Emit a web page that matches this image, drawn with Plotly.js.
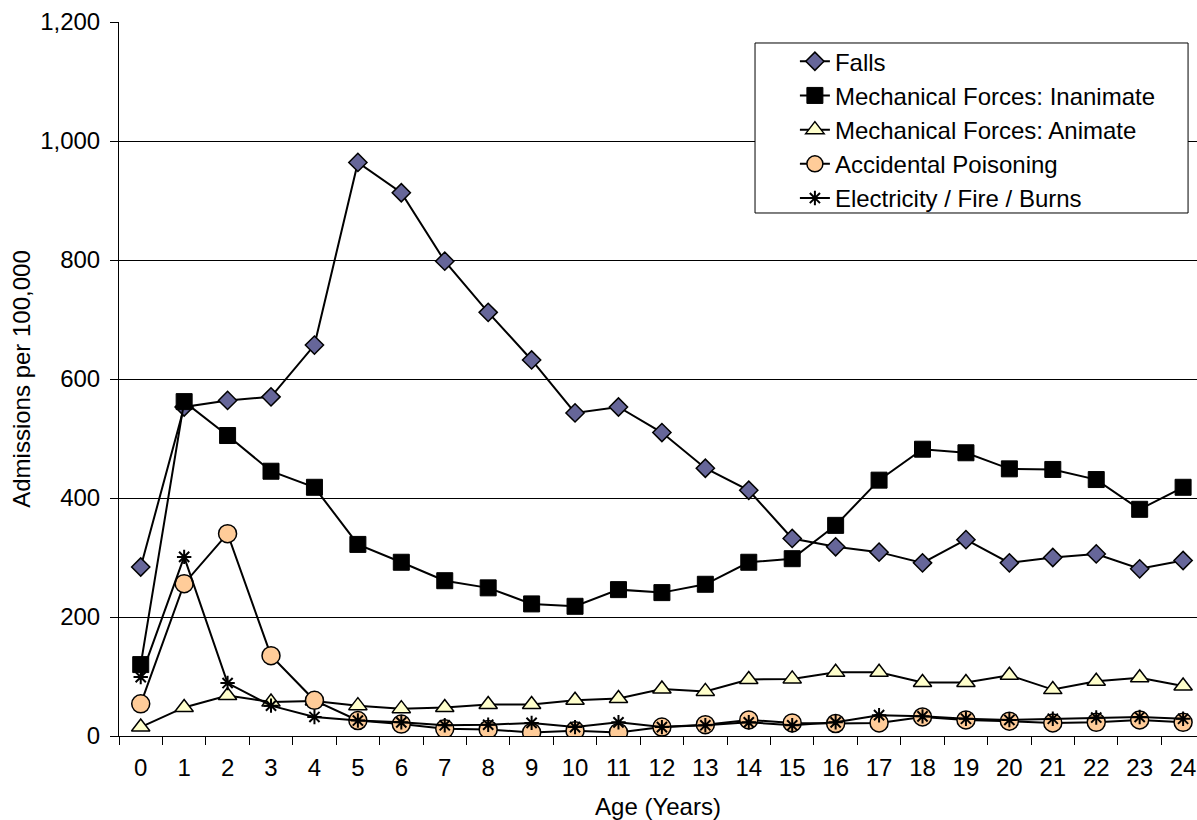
<!DOCTYPE html>
<html>
<head>
<meta charset="utf-8">
<script src="https://cdn.plot.ly/plotly-3.0.1.min.js"></script>
<style>html,body{margin:0;padding:0;background:#fff;}#chart{width:1197px;height:820px;}</style>
</head>
<body>
<div id="chart"></div>
<script>
var ages = ["0","1","2","3","4","5","6","7","8","9","10","11","12","13","14","15","16","17","18","19","20","21","22","23","24"];
var falls = [284, 553, 564, 570, 657, 964, 913, 798, 712, 632, 543, 553, 510, 450, 413, 332, 318, 309, 291, 330, 291, 300, 306, 281, 295];
var inanimate = [120, 562, 505, 445, 418, 322, 292, 261, 249, 222, 218, 246, 241, 255, 292, 298, 354, 430, 482, 476, 449, 448, 431, 381, 418];
var animate = [15, 48, 68, 57, 59, 51, 46, 48, 53, 53, 60, 63, 79, 75, 95, 96, 107, 107, 90, 90, 102, 78, 92, 98, 84];
var poisoning = [54, 256, 340, 135, 60, 26, 20, 12, 11, 6, 9, 6, 15, 19, 27, 22, 21, 22, 32, 27, 25, 22, 23, 27, 23];
var electricity = [99, 301, 89, 51, 32, 26, 23, 18, 19, 22, 15, 23, 15, 18, 23, 18, 23, 35, 33, 29, 27, 29, 31, 32, 29];
var seriesNames = ["Falls", "Mechanical Forces: Inanimate", "Mechanical Forces: Animate", "Accidental Poisoning", "Electricity / Fire / Burns"];

var FONT = "Liberation Sans, Arial, sans-serif";
var lineStyle = {color: "#000000", width: 2};

var traces = [
  {x: ages, y: falls, name: seriesNames[0], type: "scatter", mode: "lines+markers", line: lineStyle,
   marker: {symbol: "diamond", size: 14, color: "#666699", line: {color: "#000000", width: 1.5}}},
  {x: ages, y: inanimate, name: seriesNames[1], type: "scatter", mode: "lines+markers", line: lineStyle,
   marker: {symbol: "square", size: 16, color: "#000000", line: {color: "#000000", width: 1}}},
  {x: ages, y: animate, name: seriesNames[2], type: "scatter", mode: "lines+markers", line: lineStyle,
   marker: {symbol: "triangle-up", size: 16, color: "#FFFFCC", line: {color: "#000000", width: 1.5}}},
  {x: ages, y: poisoning, name: seriesNames[3], type: "scatter", mode: "lines+markers", line: lineStyle,
   marker: {symbol: "circle", size: 18, color: "#FFCC99", line: {color: "#000000", width: 1.5}}},
  {x: ages, y: electricity, name: seriesNames[4], type: "scatter", mode: "lines+markers", line: lineStyle,
   marker: {symbol: "asterisk-open", size: 12, color: "#000000", line: {color: "#000000", width: 2}}}
];

var layout = {
  width: 1197, height: 820,
  paper_bgcolor: "#ffffff", plot_bgcolor: "#ffffff",
  margin: {l: 119, r: 0, t: 22, b: 84, pad: 0},
  font: {family: FONT, size: 24, color: "#000000"},
  showlegend: true,
  legend: {
    x: 0.627, y: 0.976, xanchor: "left", yanchor: "top",
    bgcolor: "rgba(0,0,0,0)", borderwidth: 0,
    font: {family: FONT, size: 24, color: "#000000"},
    tracegroupgap: 0
  },
  shapes: [{
    type: "rect", xref: "paper", yref: "paper", layer: "above",
    x0: 0.590, x1: 0.9917, y0: 0.7325, y1: 0.9706,
    fillcolor: "#ffffff", line: {color: "#000000", width: 1}
  }],
  xaxis: {
    type: "category",
    categoryorder: "array", categoryarray: ages,
    range: [-0.5, 24.32],
    showgrid: false, zeroline: false,
    showline: true, linecolor: "#000000", linewidth: 1,
    ticks: "outside", tickson: "boundaries", ticklen: 8, tickcolor: "#000000", tickwidth: 1,
    ticklabelstandoff: 10,
    tickfont: {family: FONT, size: 24, color: "#000000"},
    title: {text: "Age (Years)", font: {family: FONT, size: 24, color: "#000000"}, standoff: 18},
    fixedrange: true
  },
  yaxis: {
    range: [0, 1200], dtick: 200, tick0: 0,
    tickformat: ",d",
    showgrid: true, gridcolor: "#000000", gridwidth: 1,
    zeroline: false,
    showline: true, linecolor: "#000000", linewidth: 1,
    ticks: "outside", ticklen: 8, tickcolor: "#000000", tickwidth: 1,
    ticklabelstandoff: 5,
    tickfont: {family: FONT, size: 24, color: "#000000"},
    title: {text: "Admissions per 100,000", font: {family: FONT, size: 24, color: "#000000"}, standoff: 2},
    fixedrange: true
  }
};

Plotly.newPlot("chart", traces, layout, {displayModeBar: false, staticPlot: true});
</script>
</body>
</html>
